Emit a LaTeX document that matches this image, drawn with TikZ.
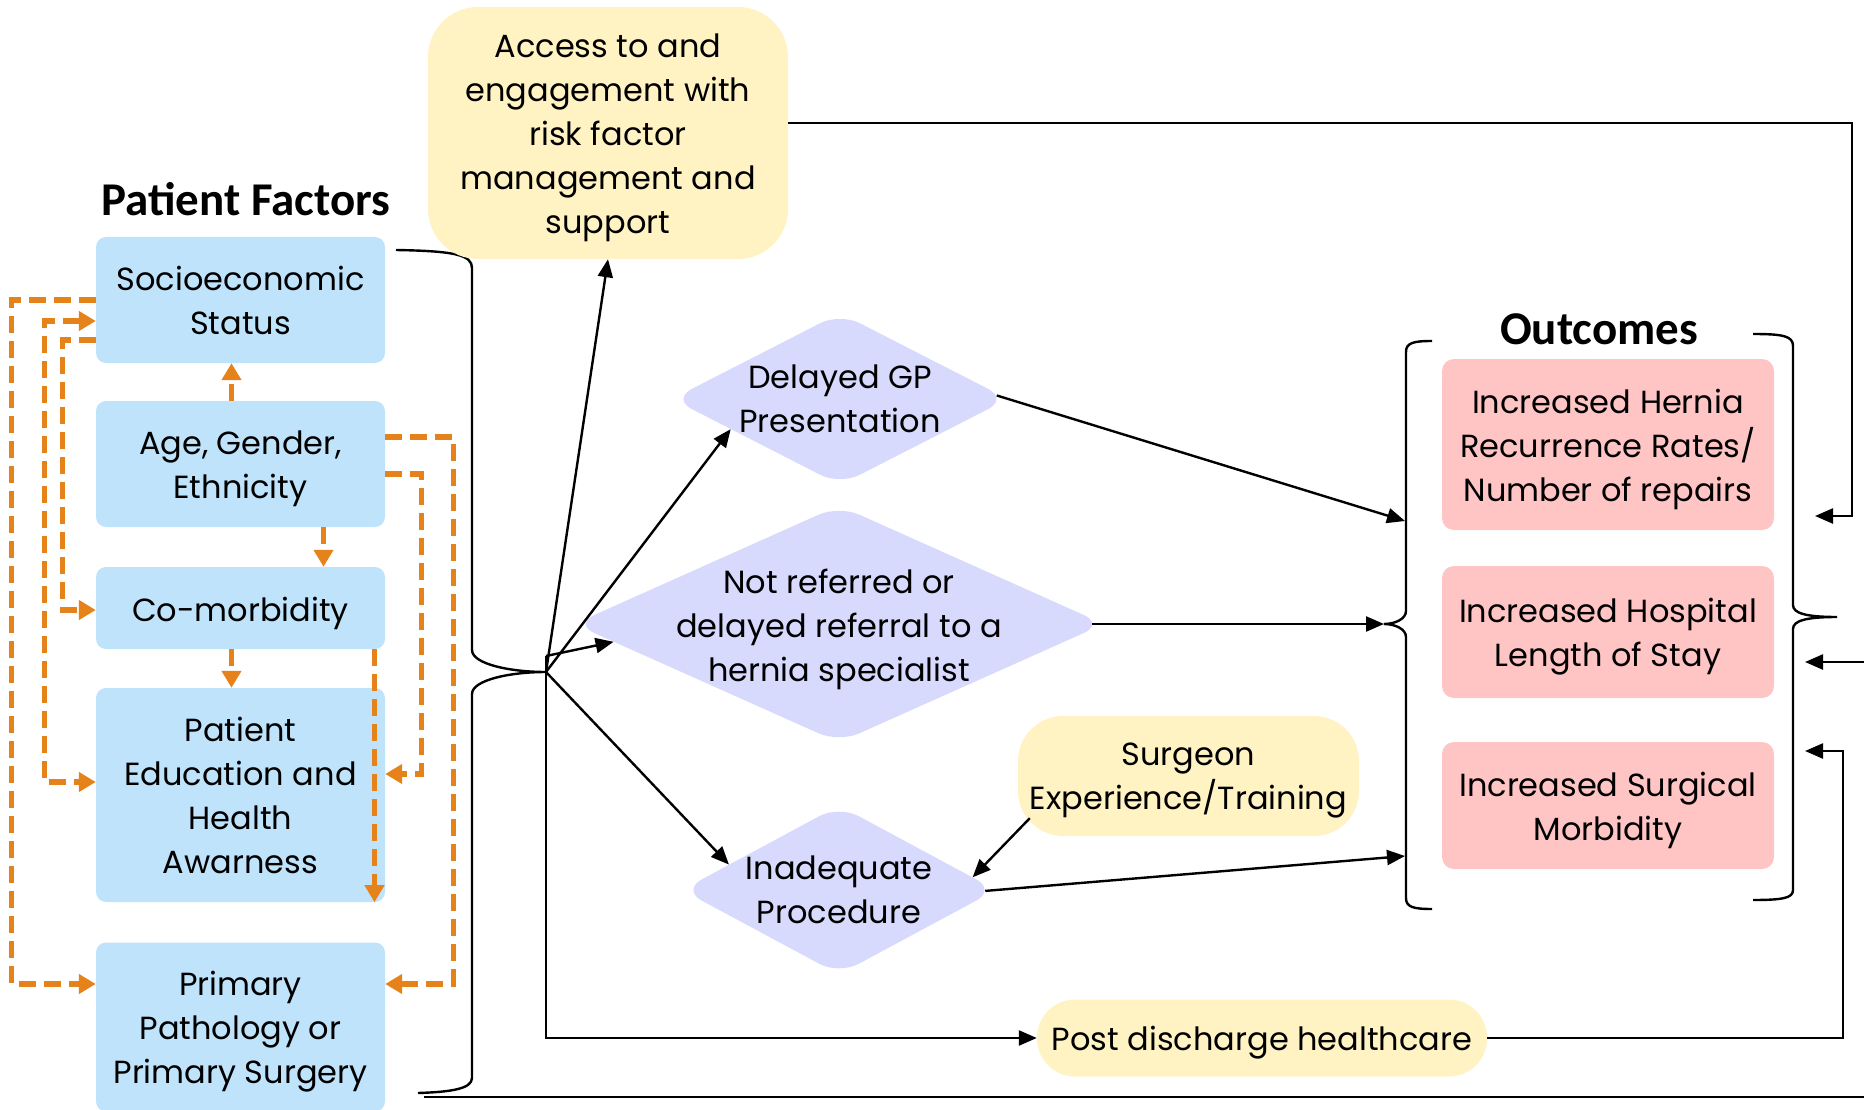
\documentclass[tikz,border=0pt]{standalone}
\usepackage{fontspec}
\setmainfont{Poppins}
\newfontfamily\headfont{Carlito}
\usetikzlibrary{arrows.meta,calc,shapes.geometric}
\definecolor{pfblue}{HTML}{BEE3FB}
\definecolor{accyellow}{HTML}{FFF3C4}
\definecolor{lav}{HTML}{D7DAFC}
\definecolor{outred}{HTML}{FFC4C4}
\definecolor{dashorange}{HTML}{E5821A}

\begin{document}
\begin{tikzpicture}[x=1pt,y=-1pt,
  body/.style={font=\fontsize{32}{44}\selectfont, align=center, text=black},
  lowered/.style={body, yshift=-5pt},
  factor/.style={fill=pfblue, rounded corners=10pt, minimum width=289pt, inner sep=0pt},
  support/.style={fill=accyellow, inner sep=0pt},
  pathway/.style={shape=diamond, fill=lav, rounded corners=22pt, inner sep=0pt},
  outcome/.style={fill=outred, rounded corners=12pt, minimum width=332pt, inner sep=0pt},
  heading/.style={font=\headfont\bfseries\fontsize{47}{56}\selectfont},
  brace/.style={draw=black, line width=2.4pt},
  link/.style={draw=black, line width=2.4pt, -{Triangle[length=18pt,width=15pt]}},
  odash/.style={draw=dashorange, line width=5.2pt, dash pattern=on 17pt off 8pt},
  otip/.style={-{Triangle[length=17pt,width=19pt,fill=dashorange]}},
  obitip/.style={{Triangle[length=17pt,width=19pt,fill=dashorange]}-{Triangle[length=17pt,width=19pt,fill=dashorange]}},
]
\useasboundingbox (0,0) rectangle (1864,1110);

% ---------- patient factors ----------
\node[heading] (pftitle) at (246,199) {Patient Factors};
\node[factor, minimum height=126pt, label={[body]center:{Socioeconomic\\Status}}] (socio) at (240.5,300) {};
\node[factor, minimum height=126pt, label={[lowered]center:{Age, Gender,\\Ethnicity}}] (age) at (240.5,464) {};
\node[factor, minimum height=82pt, label={[lowered]center:{Co-morbidity}}] (comorb) at (240.5,608) {};
\node[factor, minimum height=214pt, label={[body]center:{Patient\\Education and\\Health\\Awarness}}] (pated) at (240.5,795) {};
\node[factor, minimum height=169pt, label={[lowered]center:{Primary\\Pathology or\\Primary Surgery}}] (primary) at (240.5,1027) {};

% ---------- dashed links among the patient factors ----------
\draw[odash,otip] (socio.west) -- ++(-84,0) |- ($(primary.west)+(0,-43)$);
\draw[odash,obitip] ($(socio.west)+(0,21)$) -- ++(-51,0) |- ($(pated.west)+(0,-13)$);
\draw[odash,otip] ($(socio.west)+(0,40)$) -- ++(-33,0) |- ($(comorb.west)+(0,2)$);
\draw[odash,otip] ($(age.north)+(-9,0)$) -- ($(socio.south)+(-9,0)$);
\draw[odash,otip] ($(age.south)+(83,0)$) -- ($(comorb.north)+(83,0)$);
\draw[odash,otip] ($(comorb.south)+(-9,0)$) -- ($(pated.north)+(-9,0)$);
\draw[odash,otip] ($(comorb.south)+(134,0)$) -- ($(pated.south)+(134,0)$);
\draw[odash,otip] ($(age.east)+(0,10)$) -- ++(36,0) |- ($(pated.east)+(0,-21)$);
\draw[odash,otip] ($(age.east)+(0,-27)$) -- ++(68,0) |- ($(primary.east)+(0,-43)$);

% ---------- brace gathering the patient factors ----------
\coordinate (hub) at (546,672);
\coordinate (hubtop) at (546,656);
\draw[brace] (396,250) .. controls (455,251) and (472,255) .. (472,268) -- (472,650)
  .. controls (472,664) and (510,672) .. (hub)
  .. controls (510,672) and (472,680) .. (472,694) -- (472,1078)
  .. controls (472,1089) and (450,1092) .. (418,1093);
\coordinate (bfoot) at (424,1097);
\coordinate (edgeout) at (1864,1097);
\draw[brace] (bfoot) -- (edgeout);

% ---------- care pathway ----------
\node[support, rounded corners=50pt, minimum width=360pt, minimum height=252pt,
  label={[lowered]center:{Access to and\\engagement with\\risk factor\\management and\\support}}] (access) at (608,133) {};
\node[pathway, minimum width=336pt, minimum height=172pt,
  label={[body]center:{Delayed GP\\Presentation}}] (gp) at (840,399) {};
\node[pathway, minimum width=530pt, minimum height=237pt,
  label={[lowered]center:{Not referred or\\delayed referral to a\\hernia specialist}}] (nr) at (839,624) {};
\node[pathway, minimum width=314pt, minimum height=169pt,
  label={[body]center:{Inadequate\\Procedure}}] (inad) at (839,890) {};
\node[support, rounded corners=45pt, minimum width=341pt, minimum height=120pt,
  label={[lowered]center:{Surgeon\\Experience/Training}}] (surg) at (1188.5,776) {};
\node[support, rounded corners=38pt, minimum width=450pt, minimum height=77pt,
  label={[lowered]center:{Post discharge healthcare}}] (post) at (1262,1038) {};

% ---------- outcomes ----------
\node[heading] (outtitle) at (1599,329) {Outcomes};
\node[outcome, minimum height=171pt,
  label={[lowered]center:{Increased Hernia\\Recurrence Rates/\\Number of repairs}}] (r1) at (1608,444.5) {};
\node[outcome, minimum height=132pt,
  label={[lowered]center:{Increased Hospital\\Length of Stay}}] (r2) at (1608,632) {};
\node[outcome, minimum height=127pt,
  label={[lowered]center:{Increased Surgical\\Morbidity}}] (r3) at (1608,805.5) {};

\coordinate (obtip) at (1384,624);
\coordinate (ob1) at (1405,521);
\coordinate (ob3) at (1405,856);
\draw[brace] (1432,341) .. controls (1413,341) and (1406,343) .. (1406,352) -- (1406,611)
  .. controls (1406,619) and (1395,624) .. (obtip)
  .. controls (1395,624) and (1406,629) .. (1406,637) -- (1406,898)
  .. controls (1406,907) and (1413,909) .. (1432,909);
\draw[brace] (1753,334) .. controls (1783,334) and (1793,336) .. (1793,346) -- (1793,605)
  .. controls (1793,613) and (1805,617) .. (1837,617)
  .. controls (1805,617) and (1793,621) .. (1793,629) -- (1793,890)
  .. controls (1793,898) and (1783,900) .. (1753,900);

% ---------- connectors ----------
\draw[link] (hub) -- (access.south);
\draw[link] (hub) -- ($(gp.west)!0.35!(gp.south)$);
\draw[link] (hubtop) -- ($(nr.west)!0.15!(nr.south)$);
\draw[link] (hub) -- ($(inad.west)!0.3!(inad.north)$);
\draw[link] (hubtop) |- (post.west);
\draw[link] ($(surg.south west)+(12,-18)$) -- ($(inad.east)!0.15!(inad.north)$);
\draw[link, shorten <=-12pt] (gp.east) -- (ob1);
\draw[link, shorten <=-12pt] (nr.east) -- (obtip);
\draw[link, shorten <=-11pt] (inad.east) -- (ob3);

\coordinate (rxA) at (1852,516);
\coordinate (r1in) at (1815,516);
\coordinate (edgein) at (1864,662);
\coordinate (r2in) at (1805,662);
\coordinate (rxB) at (1843,751);
\coordinate (r3in) at (1805,751);
\draw[link] ($(access.north east)!0.46!(access.south east)$) -| (rxA) -- (r1in);
\draw[link] (edgein) -- (r2in);
\draw[link] (post.east) -| (rxB) -- (r3in);
\end{tikzpicture}
\end{document}
